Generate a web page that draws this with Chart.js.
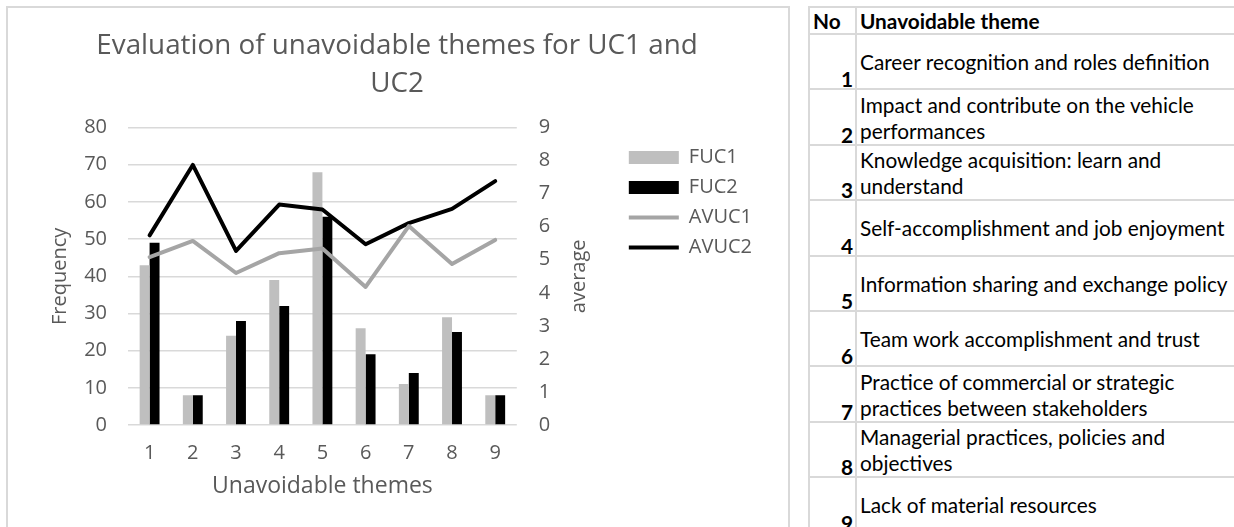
<!DOCTYPE html>
<html>
<head>
<meta charset="utf-8">
<title>Unavoidable themes</title>
<script src="https://cdn.jsdelivr.net/npm/chart.js@4.4.1/dist/chart.umd.min.js"></script>
<style>
  body { margin: 0; width: 1234px; height: 527px; overflow: hidden; position: relative; background: #fff; }
  #chartBox { position: absolute; left: 6px; top: 6px; width: 780px; height: 540px; border: 2px solid #d9d9d9; }
  #chartBox canvas { position: absolute; left: 0; top: 0; }
  #themeTable { position: absolute; left: 808px; top: 6px; width: 440px; border-collapse: collapse;
    font-family: 'Lato', sans-serif; font-size: 20.8px; color: #000; }
  #themeTable td, #themeTable th { border: 2px solid #d9d9d9; padding: 0 0 0 3px; }
  #themeTable th { height: 25px; text-align: left; font-weight: bold; vertical-align: middle; line-height: 20px; }
  #themeTable td { height: 52.4px; line-height: 26px; }
  #themeTable td.no { width: 40px; text-align: right; vertical-align: bottom; font-weight: bold; padding-right: 2px; line-height: 18px; }
  #themeTable td.name { vertical-align: middle; padding-top: 1px; }
</style>
</head>
<body>
<div id="chartBox"><canvas id="themesChart" width="780" height="520"></canvas></div>
<table id="themeTable"></table>
<script>
const themes = ['1', '2', '3', '4', '5', '6', '7', '8', '9'];
const fuc1 = [43, 8, 24, 39, 68, 26, 11, 29, 8];
const fuc2 = [49, 8, 28, 32, 56, 19, 14, 25, 8];
const avuc1 = [5.08, 5.57, 4.6, 5.2, 5.34, 4.18, 6.02, 4.87, 5.6];
const avuc2 = [5.74, 7.87, 5.27, 6.67, 6.52, 5.47, 6.11, 6.54, 7.38];
const themeNames = [
    'Career recognition and roles definition',
    'Impact and contribute on the vehicle performances',
    'Knowledge acquisition: learn and understand',
    'Self-accomplishment and job enjoyment',
    'Information sharing and exchange policy',
    'Team work accomplishment and trust',
    'Practice of commercial or strategic practices between stakeholders',
    'Managerial practices, policies and objectives',
    'Lack of material resources'
];

// table of theme names next to the chart
const table = document.getElementById('themeTable');
let rows = '<tr><th>No</th><th>Unavoidable theme</th></tr>';
for (let i = 0; i < themes.length; i++) {
    rows += `<tr><td class="no">${themes[i]}</td><td class="name">${themeNames[i]}</td></tr>`;
}
table.innerHTML = rows;

Chart.defaults.font.family = "'Open Sans', sans-serif";
Chart.defaults.color = '#595959';

// right axis title reads bottom-to-top, so it is drawn here
const averageTitle = {
    id: 'averageTitle',
    afterDraw(chart) {
        const { ctx, chartArea } = chart;
        const y1 = chart.scales.y1;
        ctx.save();
        ctx.translate(y1.left + 62, (chartArea.top + chartArea.bottom) / 2);
        ctx.rotate(-Math.PI / 2);
        ctx.font = "20px 'Open Sans', sans-serif";
        ctx.fillStyle = '#595959';
        ctx.textAlign = 'center';
        ctx.textBaseline = 'middle';
        ctx.fillText('average', 0, 0);
        ctx.restore();
    }
};

const ctx = document.getElementById('themesChart').getContext('2d');
new Chart(ctx, {
    type: 'bar',
    data: {
        labels: themes,
        datasets: [
            {
                label: 'FUC1',
                data: fuc1,
                backgroundColor: '#bfbfbf',
                borderWidth: 0,
                yAxisID: 'y',
                order: 1,
                pointStyle: 'rect',
                barPercentage: 1,
                categoryPercentage: 0.46
            },
            {
                label: 'FUC2',
                data: fuc2,
                backgroundColor: '#000000',
                borderWidth: 0,
                yAxisID: 'y',
                order: 1,
                pointStyle: 'rect',
                barPercentage: 1,
                categoryPercentage: 0.46
            },
            {
                type: 'line',
                label: 'AVUC1',
                data: avuc1,
                borderColor: '#a5a5a5',
                backgroundColor: '#a5a5a5',
                borderWidth: 4,
                borderCapStyle: 'round',
                borderJoinStyle: 'round',
                pointRadius: 0,
                pointStyle: 'line',
                tension: 0,
                yAxisID: 'y1',
                order: 0
            },
            {
                type: 'line',
                label: 'AVUC2',
                data: avuc2,
                borderColor: '#000000',
                backgroundColor: '#000000',
                borderWidth: 4,
                borderCapStyle: 'round',
                borderJoinStyle: 'round',
                pointRadius: 0,
                pointStyle: 'line',
                tension: 0,
                yAxisID: 'y1',
                order: 0
            }
        ]
    },
    options: {
        responsive: false,
        animation: false,
        layout: { padding: { left: 24, right: 26, top: 0, bottom: 28 } },
        plugins: {
            tooltip: { enabled: false },
            title: {
                display: true,
                text: ['Evaluation of unavoidable themes for UC1 and', 'UC2'],
                color: '#595959',
                font: { size: 27.8, weight: 'normal', lineHeight: 1.36 },
                padding: { top: 19, bottom: 25 }
            },
            legend: {
                position: 'right',
                align: 'start',
                fullSize: false,
                maxWidth: 220,
                title: { display: true, text: '', font: { size: 5 }, padding: { top: 4, bottom: 0 } },
                labels: {
                    usePointStyle: true,
                    pointStyleWidth: 50,
                    boxHeight: 13,
                    padding: 10,
                    color: '#595959',
                    font: { size: 20 },
                    sort: (a, b) => a.datasetIndex - b.datasetIndex
                }
            }
        },
        scales: {
            x: {
                grid: { display: false, drawTicks: false },
                border: { display: false },
                ticks: { padding: 16, font: { size: 20 } },
                title: { display: true, text: 'Unavoidable themes', font: { size: 23 }, padding: 0 },
                afterFit: (scale) => { scale.height = 75; }
            },
            y: {
                position: 'left',
                min: 0,
                max: 80,
                ticks: { stepSize: 10, padding: 21, font: { size: 20 } },
                grid: { color: '#d9d9d9', lineWidth: 1.5, drawTicks: false },
                border: { display: false },
                title: { display: true, text: 'Frequency', font: { size: 20 }, padding: { top: 16, bottom: 0 } },
                afterFit: (scale) => { scale.width = 96; }
            },
            y1: {
                position: 'right',
                min: 0,
                max: 9,
                ticks: { stepSize: 1, padding: 22, font: { size: 20 } },
                grid: { drawOnChartArea: false, drawTicks: false },
                border: { display: false },
                afterFit: (scale) => { scale.width = 102; }
            }
        }
    },
    plugins: [averageTitle]
});
</script>
</body>
</html>
